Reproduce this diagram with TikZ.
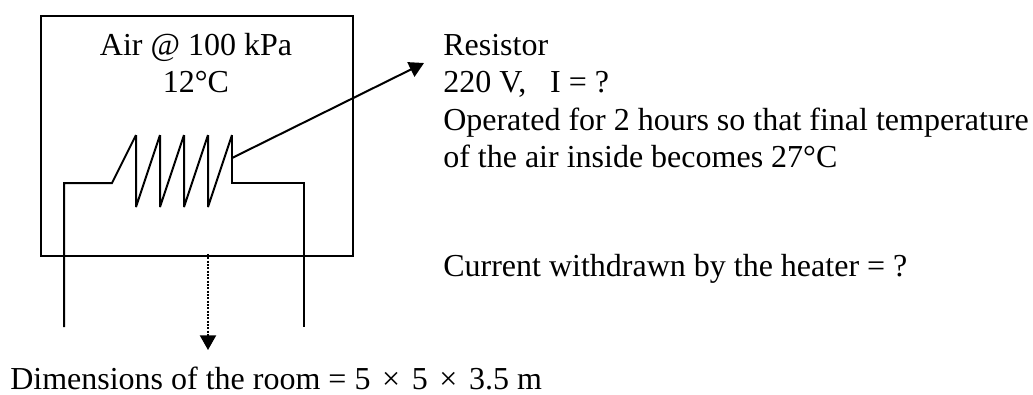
\documentclass[tikz,border=0pt]{standalone}
\usepackage{fontspec}
\setmainfont{Liberation Serif}
\usetikzlibrary{arrows.meta, positioning, calc}
\definecolor{inkblack}{HTML}{000000}
\newcommand{\crosssign}{\kern2.7pt ×\kern2.7pt}
\tikzset{
    wire/.style={inkblack, line width=1.5pt},
    label/.style={anchor=base west, inner sep=0pt, font=\fontsize{24}{28}\selectfont},
    bigtip/.style={-{Triangle[length=11pt, width=12pt]}},
}
\begin{document}
\begin{tikzpicture}[x=0.75pt, y=-0.75pt]
    \useasboundingbox (0, 0) rectangle (1033, 394);

    % ── Room ─────────────────────────────────────────────────────────
    \node[draw=inkblack, line width=1.7pt, minimum width=234pt, minimum height=180pt, inner sep=0pt, anchor=north west] (room) at (40, 14.5) {};
    \node[label, anchor=base] (airtext) at (196, 55) {Air @ 100 kPa};
    \node[label, anchor=base] (temptext) at (196, 92) {12°C};

    % ── Heater wire ──────────────────────────────────────────────────
    \coordinate (leftend) at (64, 327);
    \coordinate (rightend) at (304, 327);
    \coordinate (leftcorner) at (64, 183);
    \coordinate (rightcorner) at (304, 183);
    \coordinate (coilstart) at (112, 183);
    \coordinate (coilend) at (232, 183);
    \draw[wire] (leftend) -- (leftcorner) -- (coilstart) -- (136, 135);
    \foreach \i in {0,...,3}{
        \pgfmathsetmacro{\xa}{136+24*\i}
        \pgfmathsetmacro{\xb}{160+24*\i}
        \draw[wire, line join=bevel] (\xa, 135) -- (\xa, 207) -- (\xb, 135);
    }
    \draw[wire] (232, 135) -- (coilend) -- (rightcorner) -- (rightend);

    % ── Text on the right ────────────────────────────────────────────
    \node[label] (resistor) at (443, 55) {Resistor};
    \node[label] (voltage) at (443, 92) {220 V,\ \ \ I = ?};
    \node[label] (operated) at (443, 130) {Operated for 2 hours so that final temperature};
    \node[label] (finaltemp) at (443, 167) {of the air inside becomes 27°C};
    \node[label] (current) at (443, 276) {Current withdrawn by the heater = ?};
    \node[label] (dimensions) at (10, 389) {Dimensions of the room = 5 \crosssign{} 5 \crosssign{} 3.5 m};

    % Arrows
    \coordinate (coiltap) at (232, 158);
    \coordinate (resistortip) at (424, 63);
    \coordinate (roomedge) at (208, 254);
    \coordinate (roomtip) at (208, 350);
    \draw[wire, bigtip] (coiltap) -- (resistortip);
    \draw[wire, densely dotted, bigtip] (roomedge) -- (roomtip);
\end{tikzpicture}
\end{document}
